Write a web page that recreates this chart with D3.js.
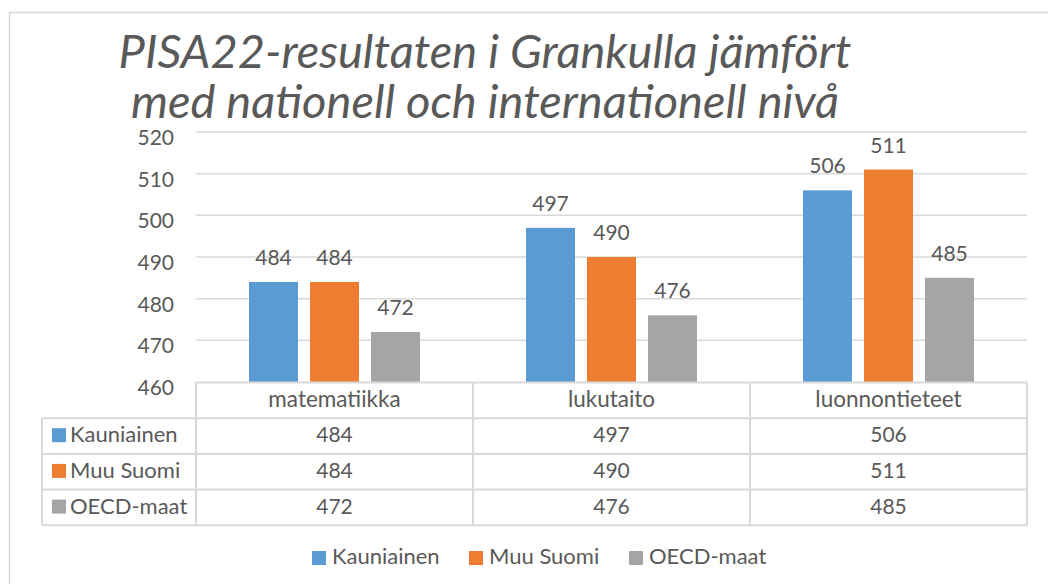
<!DOCTYPE html>
<html>
<head>
<meta charset="utf-8">
<script src="https://cdn.jsdelivr.net/npm/d3@7"></script>
<style>
  body { margin: 0; background: #fff; }
  text { font-family: Lato, "Open Sans", sans-serif; fill: #595959; }
</style>
</head>
<body>
<svg id="chart" width="1048" height="584"></svg>
<script>
// chart data
var titleLines = ["PISA22-resultaten i Grankulla jämfört", "med nationell och internationell nivå"];
var categories = ["matematiikka", "lukutaito", "luonnontieteet"];
var seriesNames = ["Kauniainen", "Muu Suomi", "OECD-maat"];
var kauniainen = [484, 497, 506];
var muuSuomi = [484, 490, 511];
var oecdMaat = [472, 476, 485];
var yTicks = [460, 470, 480, 490, 500, 510, 520];

var seriesValues = [kauniainen, muuSuomi, oecdMaat];
var colors = ["#5B9BD5", "#ED7D31", "#A5A5A5"];
var gridColor = "#D9D9D9";

var svg = d3.select("#chart");

//outer chart border
svg.append("rect")
  .attr("x", 9.5).attr("y", 12.5)
  .attr("width", 1060).attr("height", 600)
  .attr("fill", "none")
  .attr("stroke", gridColor)
  .attr("stroke-width", 1.5);

//title
svg.append("text")
  .attr("x", 485)
  .attr("y", 68)
  .style("font-style", "italic")
  .style("font-size", "47px")
  .style("text-anchor", "middle")
  .selectAll("tspan")
  .data(titleLines)
  .join("tspan")
  .attr("x", 485)
  .attr("dy", function(d, i) { return i === 0 ? 0 : 50; })
  .text(function(d) { return d; });

var plotLeft = 196, plotRight = 1027;
var y = d3.scaleLinear().domain([460, 520]).range([382, 132]);
var x = d3.scaleBand().domain(categories).range([plotLeft, plotRight]);
var xs = d3.scaleBand().domain(seriesNames).range([0, x.bandwidth()])
  .paddingInner(0.197).paddingOuter(0.869);

//gridlines
svg.append("g")
  .selectAll("line")
  .data(yTicks.slice(1))
  .join("line")
  .attr("x1", plotLeft).attr("x2", plotRight)
  .attr("y1", function(d) { return y(d); })
  .attr("y2", function(d) { return y(d); })
  .attr("stroke", gridColor)
  .attr("stroke-width", 1.5);

//y tick labels
svg.append("g")
  .selectAll("text")
  .data(yTicks)
  .join("text")
  .attr("x", 174)
  .attr("y", function(d) { return y(d) + 13; })
  .style("text-anchor", "end")
  .style("font-size", "21px")
  .text(function(d) { return d; });

//bars + data labels
seriesNames.forEach(function(name, si) {
  var g = svg.append("g");
  g.selectAll("rect")
    .data(seriesValues[si])
    .join("rect")
    .attr("x", function(d, i) { return x(categories[i]) + xs(name); })
    .attr("y", function(d) { return y(d); })
    .attr("width", xs.bandwidth())
    .attr("height", function(d) { return y(460) - y(d); })
    .attr("fill", colors[si]);

  g.selectAll("text")
    .data(seriesValues[si])
    .join("text")
    .attr("x", function(d, i) { return x(categories[i]) + xs(name) + xs.bandwidth() / 2; })
    .attr("y", function(d) { return y(d) - 17; })
    .style("text-anchor", "middle")
    .style("font-size", "21px")
    .text(function(d) { return d; });
});

//data table under the axis
var tableLeft = 42, headTop = 382.5, rowH = 35.7;
var table = svg.append("g");
var rowTop = function(r) { return headTop + rowH * (r + 1); };

//horizontal borders
table.append("line")
  .attr("x1", plotLeft).attr("x2", plotRight)
  .attr("y1", headTop).attr("y2", headTop)
  .attr("stroke", gridColor).attr("stroke-width", 2);
table.selectAll("line.h")
  .data([0, 1, 2, 3])
  .join("line")
  .attr("class", "h")
  .attr("x1", tableLeft).attr("x2", plotRight)
  .attr("y1", function(r) { return rowTop(r); })
  .attr("y2", function(r) { return rowTop(r); })
  .attr("stroke", gridColor).attr("stroke-width", 2);

//vertical borders
table.append("line")
  .attr("x1", tableLeft).attr("x2", tableLeft)
  .attr("y1", rowTop(0)).attr("y2", rowTop(3))
  .attr("stroke", gridColor).attr("stroke-width", 2);
table.selectAll("line.v")
  .data(categories.map(function(c) { return x(c); }).concat([plotRight]))
  .join("line")
  .attr("class", "v")
  .attr("x1", function(d) { return d; }).attr("x2", function(d) { return d; })
  .attr("y1", headTop).attr("y2", rowTop(3))
  .attr("stroke", gridColor).attr("stroke-width", 2);

//category headers
table.selectAll("text.cat")
  .data(categories)
  .join("text")
  .attr("class", "cat")
  .attr("x", function(d) { return x(d) + x.bandwidth() / 2; })
  .attr("y", headTop + 24)
  .style("text-anchor", "middle")
  .style("font-size", "22.5px")
  .text(function(d) { return d; });

//series rows
seriesNames.forEach(function(name, si) {
  var top = rowTop(si);
  table.append("rect")
    .attr("x", 52).attr("y", top + 10)
    .attr("width", 14).attr("height", 14)
    .attr("fill", colors[si]);
  table.append("text")
    .attr("x", 70).attr("y", top + 24)
    .style("font-size", "22px")
    .text(name);
  table.selectAll("text.v" + si)
    .data(seriesValues[si])
    .join("text")
    .attr("class", "v" + si)
    .attr("x", function(d, i) { return x(categories[i]) + x.bandwidth() / 2; })
    .attr("y", top + 24)
    .style("text-anchor", "middle")
    .style("font-size", "21px")
    .text(function(d) { return d; });
});

//legend at bottom
var legendX = [312, 469, 629];
var legend = svg.append("g");
seriesNames.forEach(function(name, si) {
  legend.append("rect")
    .attr("x", legendX[si]).attr("y", 551)
    .attr("width", 14).attr("height", 14)
    .attr("fill", colors[si]);
  legend.append("text")
    .attr("x", legendX[si] + 20).attr("y", 564)
    .style("font-size", "22px")
    .text(name);
});
</script>
</body>
</html>
